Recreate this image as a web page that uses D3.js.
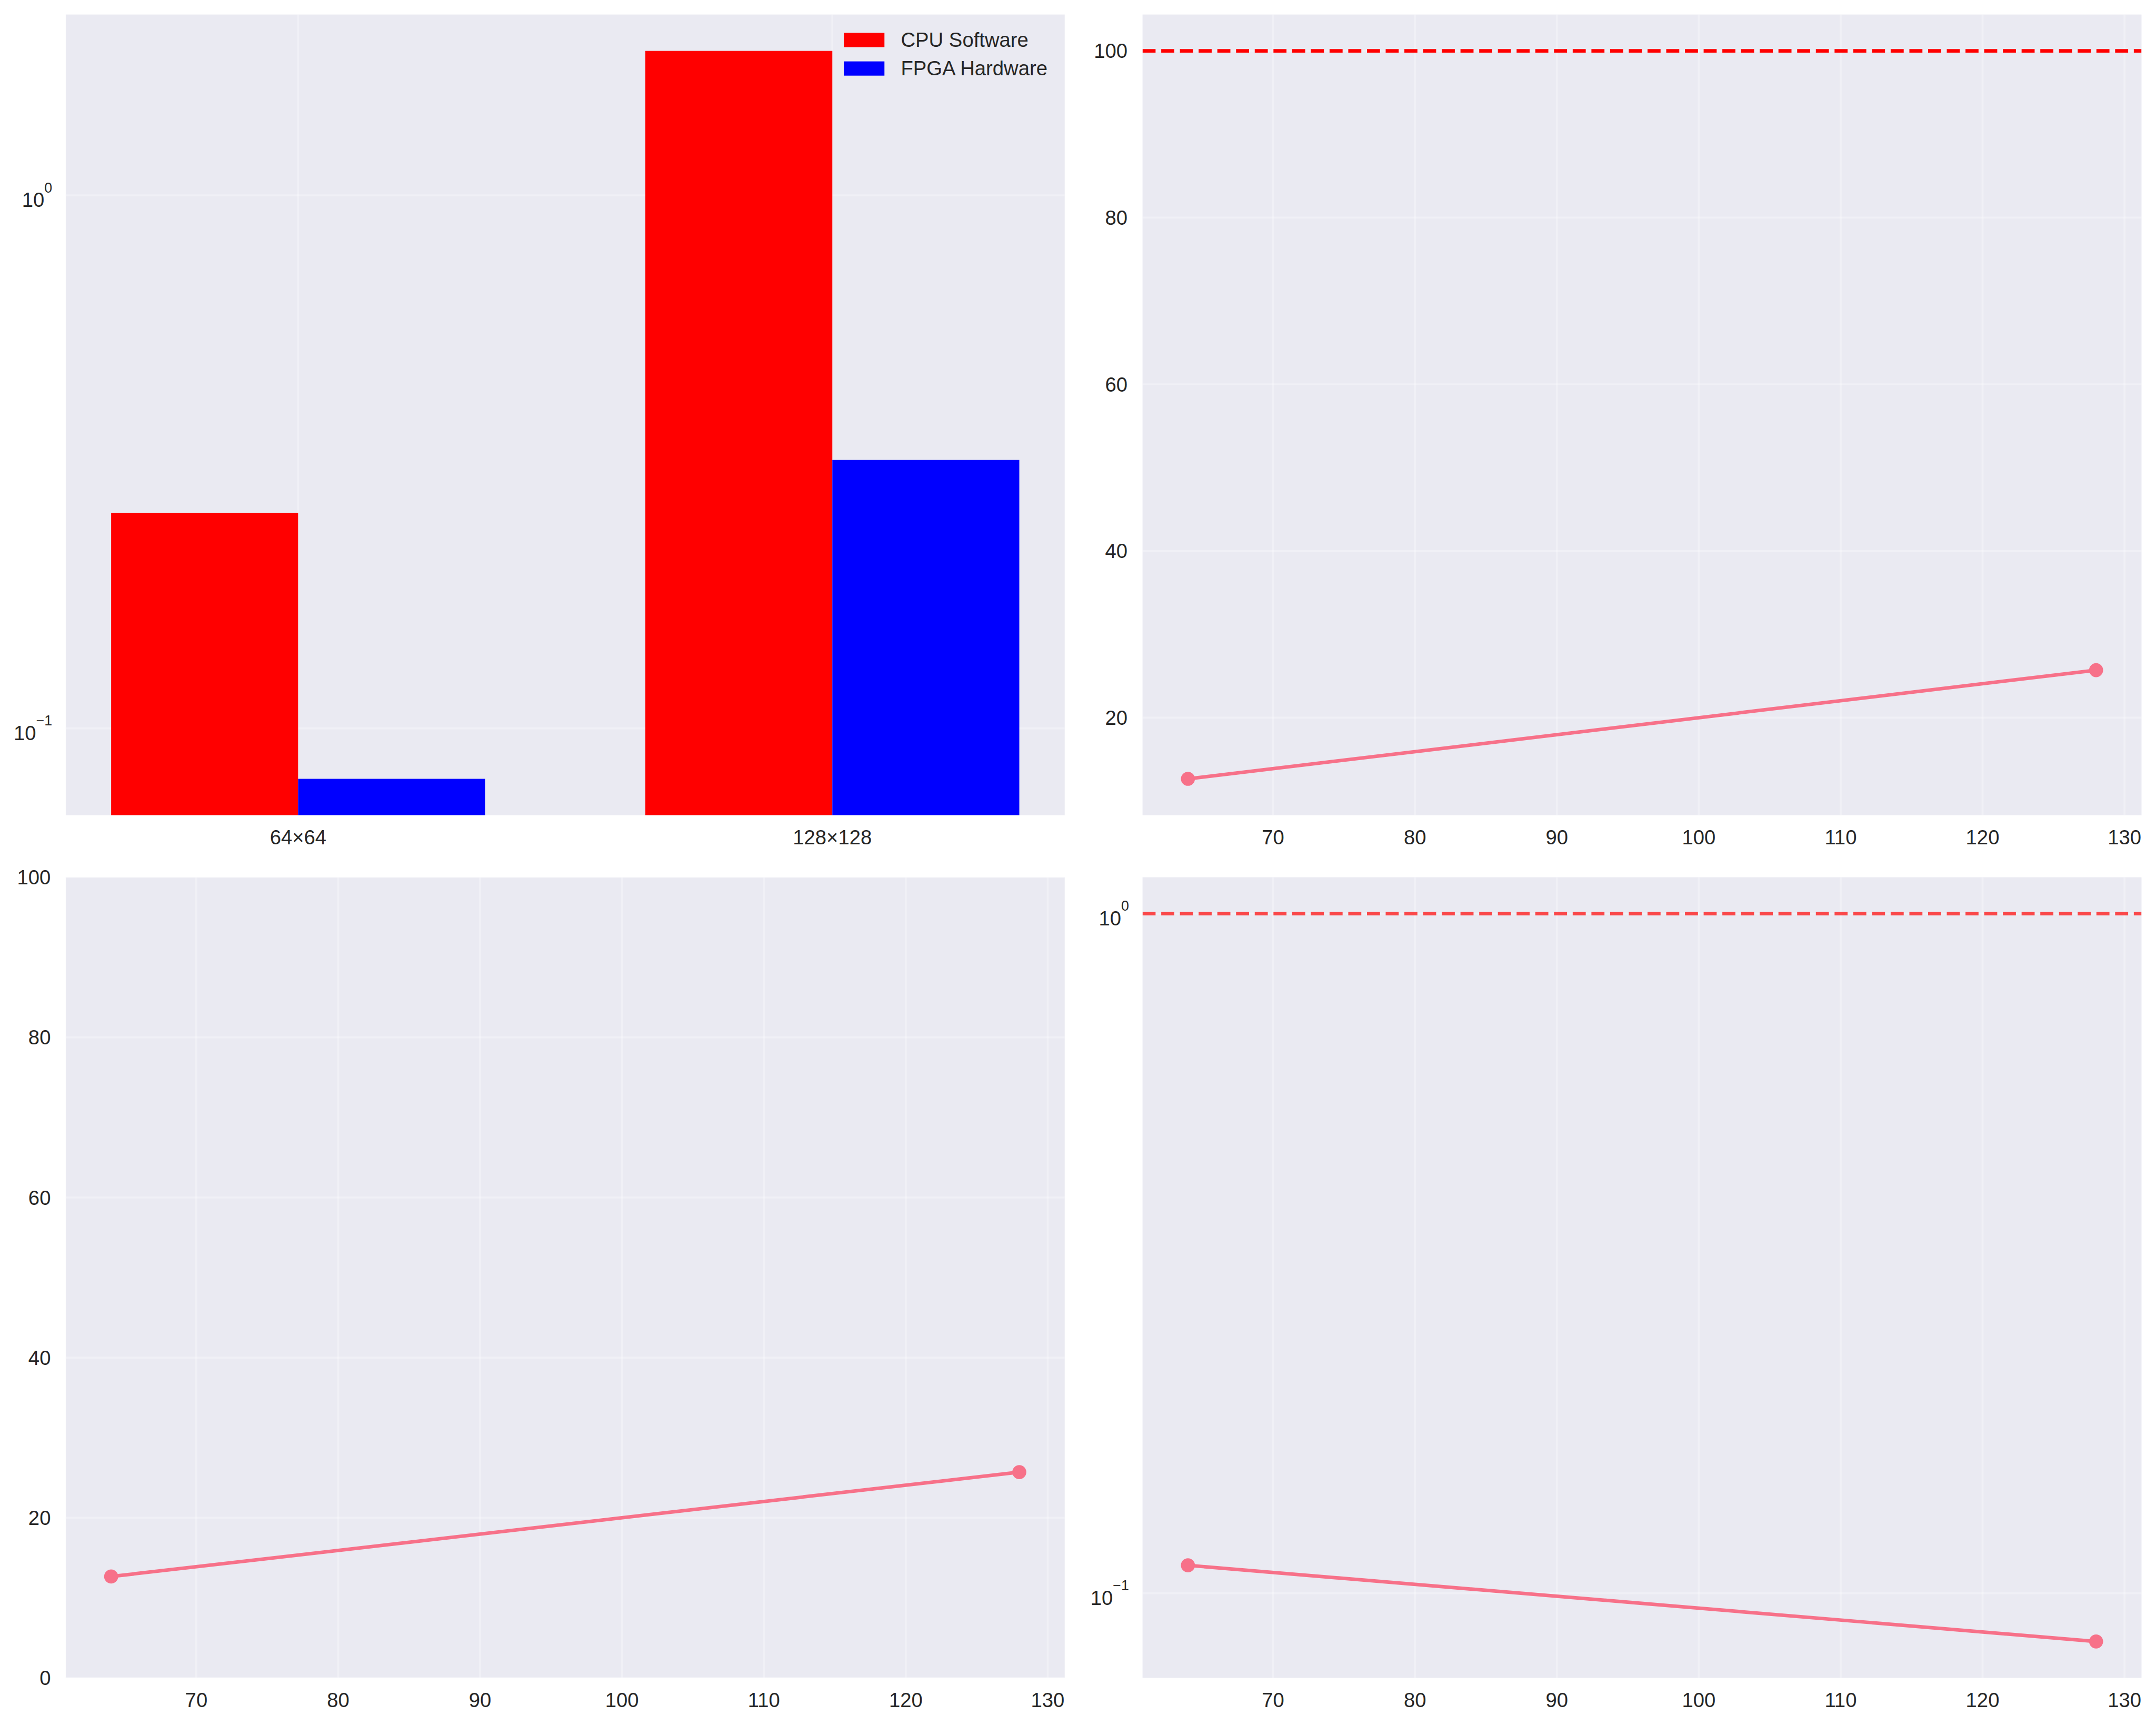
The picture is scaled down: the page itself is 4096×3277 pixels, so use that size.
<!DOCTYPE html>
<html>
<head>
<meta charset="utf-8">
<script src="https://cdn.jsdelivr.net/npm/d3@7"></script>
<style>
  html, body { margin: 0; padding: 0; background: #ffffff; }
  svg { display: block; }
  text { font-family: "Liberation Sans", Arial, sans-serif; fill: #262626; }
</style>
</head>
<body>
<div id="chart"></div>
<script>
// ---------------- data ----------------
const categories = ["64×64", "128×128"];
const cpuTimes = [0.2534, 1.866];
const fpgaTimes = [0.0804, 0.3188];
const seriesLabels = ["CPU Software", "FPGA Hardware"];
const seriesColors = ["#ff0000", "#0000ff"];

const sizes = [64, 128];
const speedup = [12.66, 25.70];
const speedupTarget = 100;
const utilization = [12.66, 25.70];
const efficiency = [0.1099, 0.0849];
const efficiencyTarget = 1;

const sizeTicks = [70, 80, 90, 100, 110, 120, 130];
const speedupTicks = [20, 40, 60, 80, 100];
const utilizationTicks = [0, 20, 40, 60, 80, 100];
const logTicks = [0.1, 1];
const logTickExp = ["\u22121", "0"];

// ---------------- layout (reference pixel space) ----------------
const W = 4461, H = 3569;
const cols = [[136, 2203], [2364, 4431]];
const rows = [[30, 1686.7], [1815, 3471.5]];
const FONT = 41.67;
const FACE = "#eaeaf2";
const LINE_COLOR = "#f77189";
const LW = 7.3;
const DASH = "27,11.7";

const svg = d3.select("#chart").append("svg")
  .attr("width", 4096).attr("height", 3277)
  .attr("viewBox", `0 0 ${W} ${H}`);

function pad(lo, hi) { const r = hi - lo; return [lo - 0.05 * r, hi + 0.05 * r]; }
function padLog(lo, hi) {
  const a = Math.log10(lo), b = Math.log10(hi), r = b - a;
  return [Math.pow(10, a - 0.05 * r), Math.pow(10, b + 0.05 * r)];
}

function panel(c, r) {
  const [x0, x1] = cols[c], [y0, y1] = rows[r];
  const g = svg.append("g");
  g.append("rect").attr("x", x0).attr("y", y0).attr("width", x1 - x0).attr("height", y1 - y0).attr("fill", FACE);
  const clipId = `clip${c}${r}`;
  svg.append("clipPath").attr("id", clipId).append("rect")
    .attr("x", x0).attr("y", y0).attr("width", x1 - x0).attr("height", y1 - y0);
  const grid = g.append("g");
  const plot = g.append("g").attr("clip-path", `url(#${clipId})`);
  return { g, grid, plot, x0, x1, y0, y1 };
}

function gridX(p, x, ticks) {
  p.grid.selectAll(null).data(ticks).enter().append("line")
    .attr("x1", d => x(d)).attr("x2", d => x(d)).attr("y1", p.y0).attr("y2", p.y1)
    .attr("stroke", "#ffffff").attr("stroke-opacity", 0.3).attr("stroke-width", 4);
}
function gridY(p, y, ticks) {
  p.grid.selectAll(null).data(ticks).enter().append("line")
    .attr("y1", d => y(d)).attr("y2", d => y(d)).attr("x1", p.x0).attr("x2", p.x1)
    .attr("stroke", "#ffffff").attr("stroke-opacity", 0.3).attr("stroke-width", 4);
}
function xLabels(p, x, ticks, fmt) {
  p.g.selectAll(null).data(ticks).enter().append("text")
    .attr("x", d => x(d)).attr("y", p.y1 + 60)
    .attr("text-anchor", "middle").attr("font-size", FONT)
    .text(fmt || (d => d));
}
function yLabels(p, y, ticks) {
  p.g.selectAll(null).data(ticks).enter().append("text")
    .attr("x", p.x0 - 31).attr("y", d => y(d) + 15)
    .attr("text-anchor", "end").attr("font-size", FONT)
    .text(d => d);
}
function yLogLabels(p, y, ticks, exps) {
  const t = p.g.selectAll(null).data(ticks).enter().append("text")
    .attr("x", p.x0 - 28).attr("y", d => y(d) + 24)
    .attr("text-anchor", "end").attr("font-size", FONT);
  t.append("tspan").text("10");
  t.append("tspan").attr("dy", -30).attr("font-size", FONT * 0.7).text((d, i) => exps[i]);
}
function linePlot(p, x, y, xs, ys) {
  const pts = xs.map((d, i) => [d, ys[i]]);
  p.plot.append("path").datum(pts)
    .attr("d", d3.line().x(d => x(d[0])).y(d => y(d[1])))
    .attr("fill", "none").attr("stroke", LINE_COLOR).attr("stroke-width", LW)
    .attr("stroke-linejoin", "round").attr("stroke-linecap", "butt");
  p.plot.selectAll(null).data(pts).enter().append("circle")
    .attr("cx", d => x(d[0])).attr("cy", d => y(d[1])).attr("r", 14.5)
    .attr("fill", LINE_COLOR);
}
function hline(p, y, v, color, opacity) {
  p.plot.append("line")
    .attr("x1", p.x0).attr("x2", p.x1).attr("y1", y(v)).attr("y2", y(v))
    .attr("stroke", color).attr("stroke-opacity", opacity)
    .attr("stroke-width", LW).attr("stroke-dasharray", DASH);
}

// ---------------- panel 1: bar chart (log) ----------------
{
  const p = panel(0, 0);
  const barW = 0.35;
  const idx = categories.map((d, i) => i);
  const x = d3.scaleLinear().domain(pad(-barW, categories.length - 1 + barW)).range([p.x0, p.x1]);
  const all = cpuTimes.concat(fpgaTimes);
  const y = d3.scaleLog().domain(padLog(d3.min(all), d3.max(all))).range([p.y1, p.y0]);
  gridX(p, x, idx);
  gridY(p, y, logTicks);
  const series = [cpuTimes, fpgaTimes];
  series.forEach((vals, s) => {
    p.plot.selectAll(null).data(vals).enter().append("rect")
      .attr("x", (d, i) => x(i + (s - 1) * barW))
      .attr("width", (d, i) => x(i + s * barW) - x(i + (s - 1) * barW))
      .attr("y", d => y(d))
      .attr("height", d => p.y1 - y(d))
      .attr("fill", seriesColors[s]);
  });
  xLabels(p, x, idx, i => categories[i]);
  yLogLabels(p, y, logTicks, logTickExp);
  // legend
  const lg = p.g.append("g");
  seriesLabels.forEach((lab, i) => {
    lg.append("rect").attr("x", p.x1 - 457).attr("y", 68 + i * 59).attr("width", 84).attr("height", 29.5)
      .attr("fill", seriesColors[i]);
    lg.append("text").attr("x", p.x1 - 339).attr("y", 97 + i * 59).attr("font-size", FONT).text(lab);
  });
}

// ---------------- panel 2: speedup ----------------
{
  const p = panel(1, 0);
  const x = d3.scaleLinear().domain(pad(d3.min(sizes), d3.max(sizes))).range([p.x0, p.x1]);
  const y = d3.scaleLinear().domain(pad(d3.min(speedup.concat([speedupTarget])), d3.max(speedup.concat([speedupTarget])))).range([p.y1, p.y0]);
  gridX(p, x, sizeTicks);
  gridY(p, y, speedupTicks);
  hline(p, y, speedupTarget, "#ff0000", 1);
  linePlot(p, x, y, sizes, speedup);
  xLabels(p, x, sizeTicks);
  yLabels(p, y, speedupTicks);
}

// ---------------- panel 3: utilization ----------------
{
  const p = panel(0, 1);
  const x = d3.scaleLinear().domain(pad(d3.min(sizes), d3.max(sizes))).range([p.x0, p.x1]);
  const y = d3.scaleLinear().domain([0, 100]).range([p.y1, p.y0]);
  gridX(p, x, sizeTicks);
  gridY(p, y, utilizationTicks);
  linePlot(p, x, y, sizes, utilization);
  xLabels(p, x, sizeTicks);
  yLabels(p, y, utilizationTicks);
}

// ---------------- panel 4: efficiency (log) ----------------
{
  const p = panel(1, 1);
  const x = d3.scaleLinear().domain(pad(d3.min(sizes), d3.max(sizes))).range([p.x0, p.x1]);
  const ev = efficiency.concat([efficiencyTarget]);
  const y = d3.scaleLog().domain(padLog(d3.min(ev), d3.max(ev))).range([p.y1, p.y0]);
  gridX(p, x, sizeTicks);
  gridY(p, y, logTicks);
  hline(p, y, efficiencyTarget, "#ff0000", 0.7);
  linePlot(p, x, y, sizes, efficiency);
  xLabels(p, x, sizeTicks);
  yLogLabels(p, y, logTicks, logTickExp);
}
</script>
</body>
</html>
